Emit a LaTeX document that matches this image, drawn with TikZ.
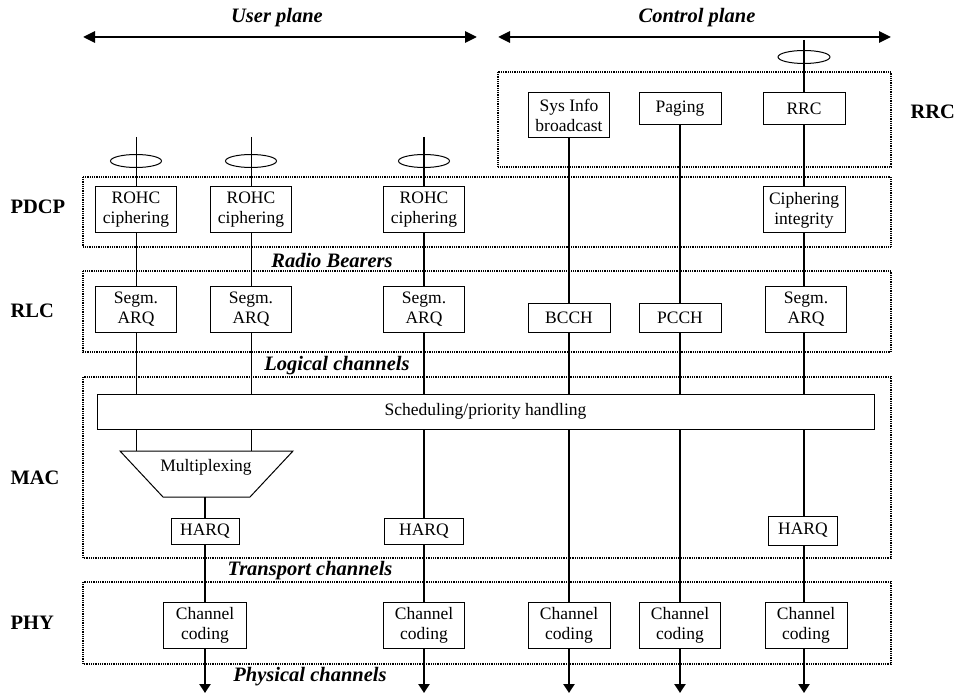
\documentclass[tikz,border=0pt]{standalone}
\usepackage{fontspec}
\setmainfont{Liberation Serif}
\usetikzlibrary{arrows.meta,shapes.geometric}
\begin{document}
\begin{tikzpicture}[x=1pt,y=-1pt,
 box/.style={draw,fill=white,line width=1pt,inner sep=0pt,align=center,font=\fontsize{17.5}{20}\selectfont},
 frame/.style={draw,line width=2pt,dash pattern=on 1pt off 0.8pt},
 thinline/.style={line width=1pt},
 midline/.style={line width=2pt},
 thk/.style={line width=2.8pt},
 downarrow/.style={-{Triangle[length=9pt,width=11pt]}},
 planearrow/.style={thk,{Triangle[length=12pt,width=11pt]}-{Triangle[length=12pt,width=11pt]}},
 lay/.style={font=\fontsize{20.5}{24}\selectfont\bfseries,anchor=west},
 chan/.style={font=\fontsize{20.5}{24}\selectfont\bfseries\itshape},
 bearer/.style={draw,ellipse,line width=1pt,minimum width=51pt,minimum height=13pt,inner sep=0pt}
]
\useasboundingbox (0,0) rectangle (961,695);

% frames
\draw[frame] (498,72) rectangle (891,167);
\draw[frame] (83,177) rectangle (891,247);
\draw[frame] (83,271) rectangle (891,352);
\draw[frame] (83,377) rectangle (891,558);
\draw[frame] (83,582) rectangle (891,664);

% layer labels
\node[lay] (lpdcp) at (7,207) {PDCP};
\node[lay] (lrlc) at (7,311) {RLC};
\node[lay] (lmac) at (7,478) {MAC};
\node[lay] (lphy) at (7,623) {PHY};
\node[lay] (lrrc) at (907,112) {RRC};

% plane arrows
\coordinate (u1) at (83,37); \coordinate (u2) at (477,37);
\coordinate (c1) at (498,37); \coordinate (c2) at (891,37);
\draw[planearrow] (u1) -- (u2);
\draw[planearrow] (c1) -- (c2);
\node[chan] (tup) at (277,18) {User plane};
\node[chan] (tcp) at (697,18) {Control plane};

% channel labels
\node[chan] (trb) at (332,260) {Radio Bearers};
\node[chan] (tlc) at (337,366) {Logical channels};
\node[chan] (ttc) at (310,571) {Transport channels};
\node[chan] (tpc) at (310,677) {Physical channels};

% coordinates
\coordinate (top1) at (136,137);
\coordinate (top2) at (251,137);
\coordinate (top3) at (424,137);
\coordinate (top4) at (804,40);
\coordinate (b1) at (205,693);
\coordinate (b2) at (424,693);
\coordinate (b3) at (569,693);
\coordinate (b4) at (680,693);
\coordinate (b5) at (804,693);
\coordinate (mtl) at (120,451);
\coordinate (mtr) at (293,451);
\coordinate (mbr) at (250,497);
\coordinate (mbl) at (163,497);
\coordinate (mb) at (205,497);

% boxes
\node[box,minimum width=81pt,minimum height=45pt] (sysinfo) at (569,115.5) {Sys Info\\broadcast};
\node[box,minimum width=82pt,minimum height=32pt] (paging) at (680,109) {Paging};
\node[box,minimum width=82pt,minimum height=32pt] (rrcbox) at (804,109) {RRC};

\node[box,minimum width=81pt,minimum height=46pt] (rohc1) at (136,210) {ROHC\\ciphering};
\node[box,minimum width=81pt,minimum height=46pt] (rohc2) at (251,210) {ROHC\\ciphering};
\node[box,minimum width=81pt,minimum height=46pt] (rohc3) at (424,210) {ROHC\\ciphering};
\node[box,minimum width=82pt,minimum height=46pt] (ciph) at (804,210) {Ciphering\\integrity};

\node[box,minimum width=81pt,minimum height=46pt] (segm1) at (136,309) {Segm.\\ARQ};
\node[box,minimum width=81pt,minimum height=46pt] (segm2) at (251,309) {Segm.\\ARQ};
\node[box,minimum width=81pt,minimum height=46pt] (segm3) at (424,309) {Segm.\\ARQ};
\node[box,minimum width=81pt,minimum height=46pt] (segm4) at (806,309) {Segm.\\ARQ};
\node[box,minimum width=82pt,minimum height=29pt] (bcch) at (569,317.5) {BCCH};
\node[box,minimum width=82pt,minimum height=29pt] (pcch) at (680,317.5) {PCCH};

\node[box,minimum width=777pt,minimum height=35pt] (sched) at (485.5,411.5) {Scheduling/priority handling};

\node[box,minimum width=68pt,minimum height=26pt] (harq1) at (205,531.5) {HARQ};
\node[box,minimum width=79pt,minimum height=26pt] (harq2) at (424,531.5) {HARQ};
\node[box,minimum width=69pt,minimum height=29pt] (harq3) at (803,530.5) {HARQ};

\node[box,minimum width=83pt,minimum height=46pt] (cc1) at (205,625) {Channel\\coding};
\node[box,minimum width=81pt,minimum height=46pt] (cc2) at (424,625) {Channel\\coding};
\node[box,minimum width=82pt,minimum height=46pt] (cc3) at (569,625) {Channel\\coding};
\node[box,minimum width=81pt,minimum height=46pt] (cc4) at (680,625) {Channel\\coding};
\node[box,minimum width=82pt,minimum height=46pt] (cc5) at (806,625) {Channel\\coding};

% multiplexing
\draw[line width=1pt] (mtl) -- (mtr) -- (mbr) -- (mbl) -- cycle;
\node[font=\fontsize{17.5}{20}\selectfont] (mux) at (206,467) {Multiplexing};

% column 1
\draw[thinline] (top1) -- (rohc1);
\draw[thinline] (rohc1) -- (segm1);
\draw[thinline] (segm1) -- (segm1 |- sched.north);
\draw[thinline] (segm1 |- sched.south) -- (segm1 |- mtl);
% column 2
\draw[thinline] (top2) -- (rohc2);
\draw[thinline] (rohc2) -- (segm2);
\draw[thinline] (segm2) -- (segm2 |- sched.north);
\draw[thinline] (segm2 |- sched.south) -- (segm2 |- mtl);
% mux out
\draw[thk] (mb) -- (harq1);
\draw[thk] (harq1) -- (cc1);
\draw[thk,downarrow] (cc1) -- (b1);
% column 3
\draw[midline] (top3) -- (rohc3);
\draw[midline] (rohc3) -- (segm3);
\draw[midline] (segm3) -- (segm3 |- sched.north);
\draw[midline] (segm3 |- sched.south) -- (harq2);
\draw[midline] (harq2) -- (cc2);
\draw[thk,downarrow] (cc2) -- (b2);
% sys info
\draw[thk] (sysinfo) -- (bcch);
\draw[thk] (bcch) -- (bcch |- sched.north);
\draw[thk] (bcch |- sched.south) -- (cc3);
\draw[thk,downarrow] (cc3) -- (b3);
% paging
\draw[thk] (paging) -- (pcch);
\draw[thk] (pcch) -- (pcch |- sched.north);
\draw[thk] (pcch |- sched.south) -- (cc4);
\draw[thk,downarrow] (cc4) -- (b4);
% rrc
\draw[thk] (top4) -- (rrcbox);
\draw[thk] (rrcbox) -- (ciph);
\draw[thk] (ciph) -- (ciph |- segm4.north);
\draw[thk] (ciph |- segm4.south) -- (ciph |- sched.north);
\draw[thk] (ciph |- sched.south) -- (ciph |- harq3.north);
\draw[thk] (ciph |- harq3.south) -- (ciph |- cc5.north);
\draw[thk,downarrow] (ciph |- cc5.south) -- (b5);

% bearers
\node[bearer] (e1) at (136,161) {};
\node[bearer] (e2) at (251,161) {};
\node[bearer] (e3) at (424,161) {};
\node[bearer,minimum width=52pt] (e4) at (804,57) {};
\end{tikzpicture}
\end{document}
